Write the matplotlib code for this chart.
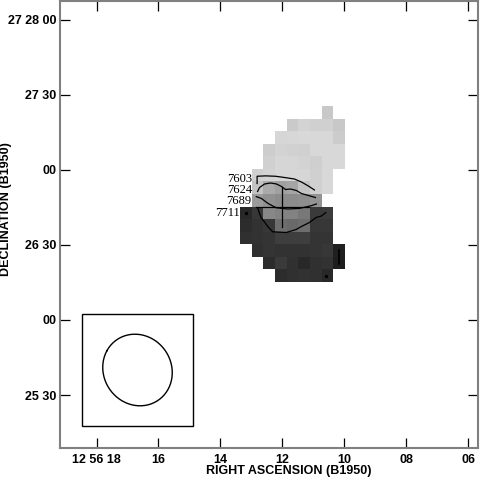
import numpy as np
import matplotlib
matplotlib.use('Agg')
import matplotlib.pyplot as plt
from matplotlib.patches import Rectangle

plt.rcParams['font.family'] = ['Liberation Sans Narrow', 'Liberation Sans', 'DejaVu Sans']

# Axes: RA in seconds past 12h56m, Dec in arcsec past 27d00m (B1950)
ra_ticks = [18, 16, 14, 12, 10, 8, 6]
ra_labels = ['12 56 18', '16', '14', '12', '10', '08', '06']
dec_ticks = [1680, 1650, 1620, 1590, 1560, 1530]
dec_labels = ['27 28 00', '27 30', '00', '26 30', '00', '25 30']
ra_lim = (19.18, 5.68)
dec_lim = (1508.8, 1687.6)

# Map grid: 5 arcsec cells, top-left corner of the map
cell_arcsec = 5.0
map_ra0 = 13.355
map_dec0 = 1645.3
dec_ref = 27.43

# grey level of each map cell (0 black .. 255 white), nan = blank
N = np.nan
gray_map = [
    [N,   N,   N,   N,   N,   N,   N,   200, N],
    [N,   N,   N,   N,   202, 212, 208, 208, 200],
    [N,   N,   N,   214, 215, 216, 216, 216, 204],
    [N,   N,   205, 212, 209, 208, 216, 216, 216],
    [N,   N,   208, 214, 214, 212, 207, 216, 216],
    [N,   208, 212, 214, 214, 214, 208, 216, N],
    [N,   196, 170, 160, 165, 195, 208, 216, N],
    [N,   155, 145, 140, 140, 142, 148, N,   N],
    [40,  55,  135, 130, 130, 120, 58,  60,  N],
    [45,  50,  55,  110, 105, 110, 55,  55,  N],
    [48,  50,  52,  62,  62,  62,  52,  52,  N],
    [N,   48,  52,  50,  50,  50,  52,  55,  32],
    [N,   N,   45,  58,  48,  40,  48,  50,  30],
    [N,   N,   N,   45,  48,  50,  48,  40,  N],
]

# contour lines in map cell units (col, row)
level_names = ['7603', '7624', '7689', '7711']
c7603 = [(1.44, 6.14), (1.44, 5.56), (2.17, 5.53), (3.02, 5.56), (3.80, 5.66),
         (4.65, 5.78), (5.25, 6.02), (5.85, 6.34), (6.37, 6.66)]
c7624 = [(1.48, 6.78), (1.65, 6.46), (2.08, 6.18), (2.60, 6.10), (3.11, 6.18),
         (3.54, 6.38), (3.88, 6.62), (4.31, 6.58), (4.82, 6.70), (5.25, 6.94),
         (5.85, 7.10), (6.45, 7.26)]
c7689 = [(1.37, 7.19), (1.80, 7.33), (2.37, 7.73), (3.08, 8.08), (4.08, 8.18),
         (5.08, 8.13), (6.08, 7.92), (6.54, 7.78)]
c7711 = [(1.51, 8.14), (1.65, 8.54), (1.80, 8.90), (2.08, 9.22), (2.37, 9.60),
         (2.77, 10.00), (3.94, 10.06), (4.80, 9.82), (5.25, 9.58), (5.94, 9.26),
         (6.51, 8.86), (6.97, 8.74), (7.35, 8.46)]
contours = [c7603, c7624, c7689, c7711]

# position cross and blemishes (cell units)
cross_center = (3.62, 8.06)
cross_half = (2.3, 1.6)
dots = [(0.51, 8.53), (7.37, 13.54)]
bar_col = 8.51
bar_rows = (11.46, 12.58)

# restoring beam (arcsec, deg) and its box
beam_ra, beam_dec = 16.677, 1540.0
bmaj, bmin, bpa = 30.5, 28.0, 60.0
box_ra = (18.484, 14.884)
box_dec = (1517.5, 1562.3)

ra_cell = cell_arcsec / (15 * np.cos(np.radians(dec_ref)))


def to_sky(col, row):
    return map_ra0 - np.asarray(col) * ra_cell, map_dec0 - np.asarray(row) * cell_arcsec


fig = plt.figure(figsize=(4.8, 4.8), dpi=100)
ax = fig.add_axes([60 / 480, 32 / 480, 418 / 480, 447 / 480])

img = np.array(gray_map, dtype=float)
nrow, ncol = img.shape
ax.imshow(img, cmap='gray', vmin=0, vmax=255, interpolation='nearest', aspect='auto',
          origin='upper',
          extent=[map_ra0, map_ra0 - ncol * ra_cell, map_dec0 - nrow * cell_arcsec, map_dec0])

label_offsets = [(-3.2, 3.2), (-3.6, 1.1), (-3.4, -3.1), (-13.0, -3.2)]
for name, line, off in zip(level_names, contours, label_offsets):
    cols, rows = zip(*line)
    ra, dec = to_sky(cols, rows)
    ax.plot(ra, dec, color='black', lw=0.9)
    ax.annotate(name, (ra[0], dec[0]), xytext=off, textcoords='offset points',
                ha='right', va='center', fontsize=9, family=['Liberation Serif', 'DejaVu Serif'])

cx, cy = cross_center
ra, dec = to_sky([cx - cross_half[0], cx + cross_half[0]], [cy, cy])
ax.plot(ra, dec, color='black', lw=0.9)
ra, dec = to_sky([cx, cx], [cy - cross_half[1], cy + cross_half[1]])
ax.plot(ra, dec, color='black', lw=0.9)
for d in dots:
    ra, dec = to_sky(*d)
    ax.plot(ra, dec, 's', color='black', ms=1.2)
ra, dec = to_sky([bar_col, bar_col], list(bar_rows))
ax.plot(ra, dec, color='black', lw=1.2)

# beam
ax.add_patch(Rectangle((box_ra[0], box_dec[0]), box_ra[1] - box_ra[0], box_dec[1] - box_dec[0],
                       fill=False, ec='black', lw=1.0))
t = np.linspace(0, 2 * np.pi, 200)
pa = np.radians(bpa)
east = bmaj / 2 * np.cos(t) * np.sin(pa) + bmin / 2 * np.sin(t) * np.cos(pa)
north = bmaj / 2 * np.cos(t) * np.cos(pa) - bmin / 2 * np.sin(t) * np.sin(pa)
ax.plot(beam_ra + east / (15 * np.cos(np.radians(dec_ref))), beam_dec + north,
        color='black', lw=1.0)

ax.set_xlim(*ra_lim)
ax.set_ylim(*dec_lim)
ax.set_xticks(ra_ticks)
ax.set_xticklabels(ra_labels)
ax.set_yticks(dec_ticks)
ax.set_yticklabels(dec_labels)
ax.tick_params(direction='in', length=7.5, width=0.9, colors='black', top=True, right=True,
               labelsize=9)
ax.tick_params(axis='y', pad=2.5)
ax.tick_params(axis='x', pad=4)
for lab in ax.get_xticklabels() + ax.get_yticklabels():
    lab.set_fontweight('bold')
for s in ax.spines.values():
    s.set_color('#808080')
    s.set_linewidth(1.5)

fig.text(289 / 480, 1 - 471 / 480, 'RIGHT ASCENSION (B1950)', ha='center', va='center',
         fontsize=9, fontweight='bold')
fig.text(6 / 480, 1 - 209 / 480, 'DECLINATION (B1950)', ha='center', va='center',
         rotation=90, fontsize=9, fontweight='bold')

fig.savefig('out.png', dpi=100)
